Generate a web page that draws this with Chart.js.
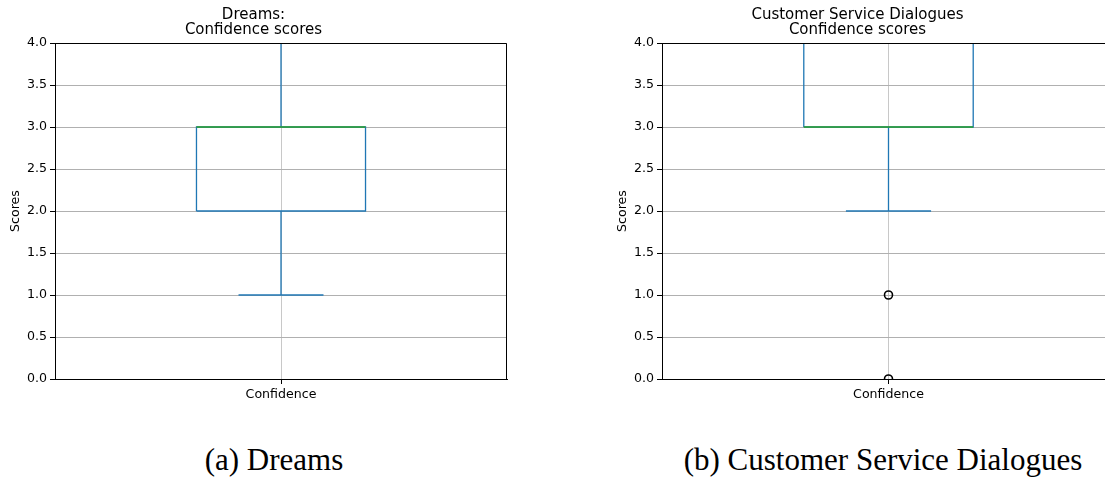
<!DOCTYPE html>
<html>
<head>
<meta charset="utf-8">
<script src="https://cdn.jsdelivr.net/npm/chart.js@4/dist/chart.umd.min.js"></script>
<style>
  html, body { margin: 0; padding: 0; background: #fff; }
  body { width: 1105px; height: 477px; position: relative; overflow: hidden; }
  .panel { position: absolute; top: 0; height: 410px; }
  .caption { position: absolute; top: 442px; font-family: "Liberation Serif", serif; font-size: 31px; color: #000; white-space: nowrap; transform: translateX(-50%); }
</style>
</head>
<body>
<div class="panel" style="left:0;width:562px"><canvas id="c1"></canvas></div>
<div class="panel" style="left:600px;width:577px"><canvas id="c2"></canvas></div>
<div class="caption" style="left:274px">(a) Dreams</div>
<div class="caption" style="left:883px">(b) Customer Service Dialogues</div>
<script>
// Category and tick labels
const categories = ['Confidence'];
const yTicks = [0, 0.5, 1, 1.5, 2, 2.5, 3, 3.5, 4];

// Five-number summaries and outliers of the confidence scores
const dreamsStats   = { lowWhisker: 1, q1: 2, median: 3, q3: 3, highWhisker: 4 };
const dreamsOutliers = [];
const serviceStats  = { lowWhisker: 2, q1: 3, median: 3, q3: 4, highWhisker: 4 };
const serviceOutliers = [1, 0];

// Drawing constants (box/cap half widths in x-axis units)
const BOX_HALF = 0.187;
const CAP_HALF = 0.094;
const BLUE = '#1f77b4';
const GREEN = '#2ca02c';
const LW = 1.3;

function seg(points, color, order, width) {
  return { type: 'scatter', data: points, showLine: true, borderColor: color, order: order,
           borderWidth: width || LW, pointRadius: 0, pointHoverRadius: 0, fill: false, clip: 0 };
}

// Lower "order" values are painted last (on top)
function boxDatasets(s, outliers) {
  const c = 1;
  const ds = [
    seg([{x:c,y:s.q1},{x:c,y:s.lowWhisker}], BLUE, 5),
    seg([{x:c,y:s.q3},{x:c,y:s.highWhisker}], BLUE, 5),
    seg([{x:c-CAP_HALF,y:s.lowWhisker},{x:c+CAP_HALF,y:s.lowWhisker}], BLUE, 4),
    seg([{x:c-CAP_HALF,y:s.highWhisker},{x:c+CAP_HALF,y:s.highWhisker}], BLUE, 4),
    seg([{x:c-BOX_HALF,y:s.q1},{x:c+BOX_HALF,y:s.q1},{x:c+BOX_HALF,y:s.q3},
         {x:c-BOX_HALF,y:s.q3},{x:c-BOX_HALF,y:s.q1}], BLUE, 3),
    seg([{x:c-BOX_HALF,y:s.median},{x:c+BOX_HALF,y:s.median}], GREEN, 1, 1.6)
  ];
  if (outliers.length) {
    ds.push({ type: 'scatter', order: 0, data: outliers.map(v => ({x:c, y:v})),
      pointStyle: 'circle', pointRadius: 4, pointBorderWidth: 1.6,
      pointBorderColor: '#000', pointBackgroundColor: 'rgba(0,0,0,0)', showLine: false, clip: 0 });
  }
  return ds;
}

// Draws the top and right spines around the plotting area
const frame = {
  id: 'frame',
  afterDraw(chart) {
    const a = chart.chartArea, ctx = chart.ctx;
    ctx.save();
    ctx.strokeStyle = '#000';
    ctx.lineWidth = 1;
    ctx.beginPath();
    ctx.moveTo(Math.round(a.left) + 0.5, Math.round(a.top) + 0.5);
    ctx.lineTo(Math.round(a.right) - 0.5, Math.round(a.top) + 0.5);
    ctx.lineTo(Math.round(a.right) - 0.5, Math.round(a.bottom) + 0.5);
    ctx.stroke();
    ctx.restore();
  }
};

const tickFont = { family: 'DejaVu Sans', size: 12.6 };

function makeChart(id, title, stats, outliers, yAxisWidth, labelPad, rightPad) {
  new Chart(document.getElementById(id), {
    type: 'scatter',
    data: { datasets: boxDatasets(stats, outliers) },
    options: {
      responsive: true, maintainAspectRatio: false, animation: false,
      events: [],
      layout: { padding: { left: 0, right: rightPad, top: 0, bottom: 0 } },
      plugins: {
        legend: { display: false }, tooltip: { enabled: false },
        title: { display: true, text: title, color: '#000',
                 font: { family: 'DejaVu Sans', size: 15, weight: 'normal', lineHeight: 1.0 },
                 padding: { top: 8, bottom: 5 } }
      },
      scales: {
        x: {
          type: 'linear', min: 0.5, max: 1.5,
          afterBuildTicks(scale) { scale.ticks = categories.map((_, i) => ({ value: i + 1 })); },
          afterFit(scale) { scale.height = 31; },
          ticks: { color: '#000', font: tickFont, padding: 3, maxRotation: 0,
                   callback: (v) => categories[Math.round(v) - 1] },
          grid: { color: '#c8c8c8', lineWidth: 1, tickLength: 5, tickColor: '#000', tickWidth: 1 },
          border: { color: '#000', width: 1 }
        },
        y: {
          type: 'linear', min: yTicks[0], max: yTicks[yTicks.length - 1],
          afterBuildTicks(scale) { scale.ticks = yTicks.map(v => ({ value: v })); },
          afterFit(scale) { scale.width = yAxisWidth; },
          ticks: { color: '#000', font: tickFont, padding: 3, callback: (v) => v.toFixed(1) },
          grid: { color: '#b0b0b0', lineWidth: 1, tickLength: 5, tickColor: '#000', tickWidth: 1 },
          border: { color: '#000', width: 1 },
          title: { display: true, text: 'Scores', color: '#000', font: tickFont,
                   padding: { top: labelPad, bottom: 0 } }
        }
      }
    },
    plugins: [frame]
  });
}

makeChart('c1', ['Dreams:', 'Confidence scores'], dreamsStats, dreamsOutliers, 55, 8, 55);
makeChart('c2', ['Customer Service Dialogues', 'Confidence scores'], serviceStats, serviceOutliers, 62, 15, 62);
</script>
</body>
</html>
